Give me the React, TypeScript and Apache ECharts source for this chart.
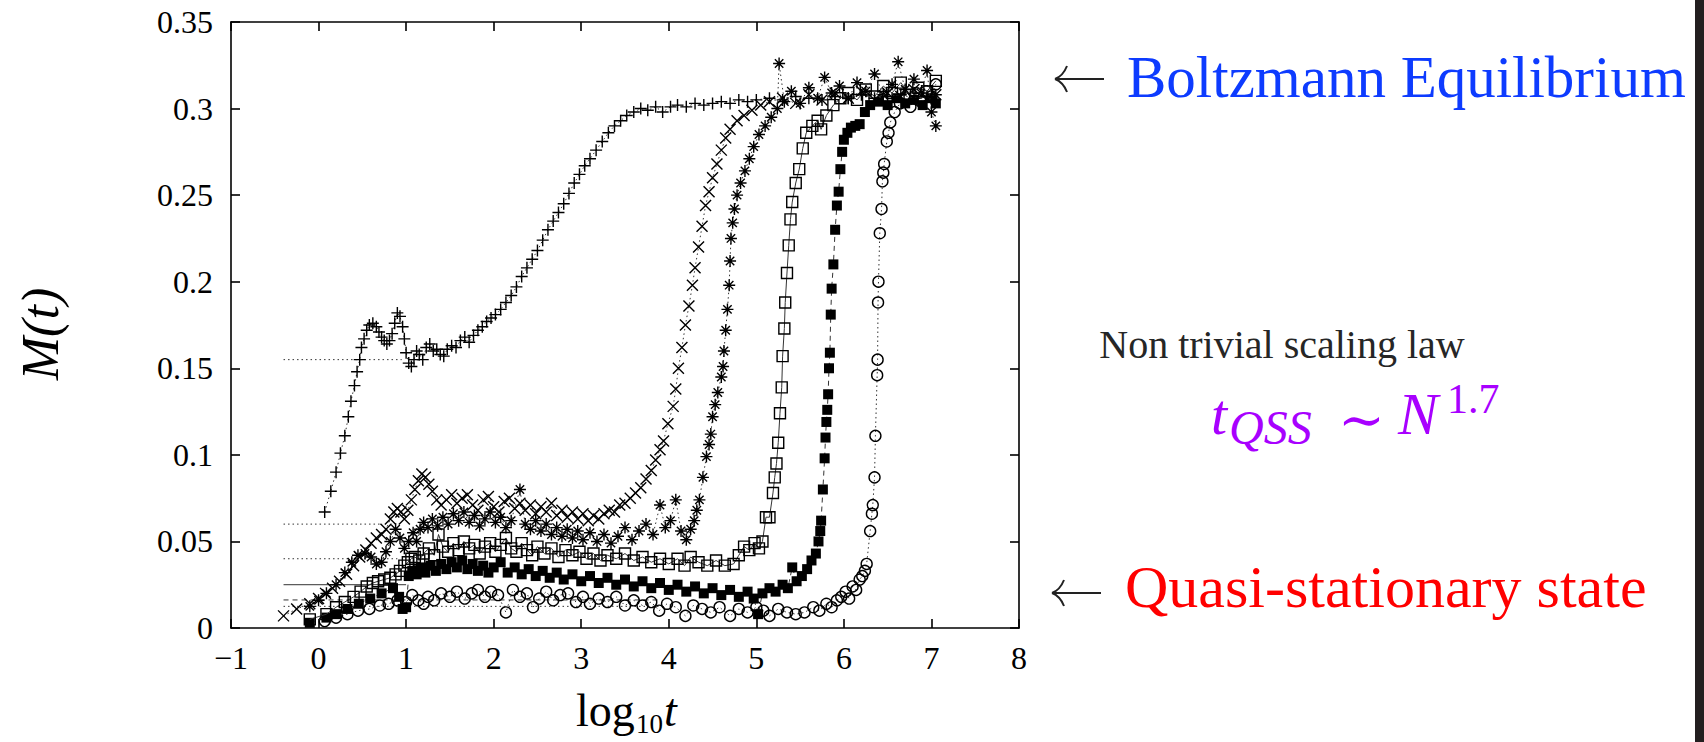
import React, { useEffect, useRef } from "react";
import * as echarts from "echarts";

// ---- axis ranges / ticks ----
const X_MIN = -1;
const X_MAX = 8;
const Y_MIN = 0;
const Y_MAX = 0.35;
const Y_STEP = 0.05;

// ---- data (log10 t, M(t)) ----
const PLUS_DATA: number[][] = [
  [0.07, 0.067], [0.14, 0.079], [0.2, 0.09], [0.25, 0.101], [0.3, 0.111], [0.34, 0.122], [0.37, 0.131],
  [0.41, 0.14], [0.44, 0.148], [0.47, 0.155], [0.49, 0.162], [0.52, 0.167], [0.55, 0.172], [0.58, 0.175],
  [0.62, 0.176], [0.66, 0.174], [0.69, 0.171], [0.72, 0.168], [0.75, 0.166], [0.78, 0.164], [0.81, 0.166],
  [0.84, 0.17], [0.87, 0.176], [0.9, 0.182], [0.93, 0.18], [0.96, 0.174], [0.98, 0.167], [1.0, 0.159],
  [1.03, 0.153], [1.06, 0.151], [1.09, 0.155], [1.12, 0.16], [1.15, 0.158], [1.19, 0.155], [1.23, 0.162],
  [1.27, 0.164], [1.31, 0.16], [1.35, 0.161], [1.39, 0.158], [1.43, 0.157], [1.47, 0.161], [1.52, 0.163],
  [1.57, 0.162], [1.62, 0.166], [1.67, 0.168], [1.72, 0.165], [1.77, 0.169], [1.82, 0.172], [1.87, 0.174],
  [1.92, 0.177], [1.97, 0.179], [2.02, 0.181], [2.08, 0.184], [2.14, 0.188], [2.2, 0.192], [2.26, 0.197],
  [2.32, 0.203], [2.38, 0.208], [2.44, 0.213], [2.5, 0.218], [2.56, 0.224], [2.62, 0.23], [2.68, 0.235],
  [2.74, 0.24], [2.8, 0.245], [2.86, 0.251], [2.92, 0.257], [2.98, 0.262], [3.04, 0.267], [3.1, 0.271],
  [3.17, 0.276], [3.24, 0.281], [3.31, 0.286], [3.38, 0.29], [3.45, 0.293], [3.52, 0.296], [3.6, 0.298],
  [3.68, 0.3], [3.76, 0.299], [3.85, 0.301], [3.93, 0.298], [4.02, 0.301], [4.1, 0.302], [4.2, 0.301],
  [4.3, 0.303], [4.4, 0.302], [4.5, 0.303], [4.6, 0.304], [4.7, 0.303], [4.8, 0.305], [4.9, 0.304],
  [5.0, 0.305], [5.15, 0.306], [5.3, 0.305], [5.45, 0.307], [5.6, 0.306], [5.75, 0.305], [5.9, 0.307],
  [6.05, 0.306], [6.2, 0.308], [6.35, 0.306], [6.5, 0.307], [6.65, 0.308], [6.8, 0.306], [6.95, 0.307],
  [7.05, 0.308],
];

const CROSS_DATA: number[][] = [
  [-0.4, 0.007], [-0.25, 0.011], [-0.1, 0.014], [0.0, 0.017], [0.08, 0.02], [0.16, 0.023], [0.24, 0.027],
  [0.32, 0.031], [0.4, 0.036], [0.47, 0.041], [0.54, 0.045], [0.6, 0.049], [0.66, 0.052], [0.72, 0.054],
  [0.77, 0.057], [0.82, 0.063], [0.86, 0.067], [0.9, 0.069], [0.94, 0.067], [0.98, 0.063], [1.02, 0.068],
  [1.06, 0.074], [1.1, 0.08], [1.14, 0.085], [1.18, 0.089], [1.22, 0.087], [1.26, 0.083], [1.3, 0.079],
  [1.35, 0.074], [1.4, 0.071], [1.46, 0.074], [1.52, 0.077], [1.58, 0.072], [1.64, 0.075], [1.7, 0.077],
  [1.76, 0.071], [1.82, 0.068], [1.88, 0.074], [1.94, 0.076], [2.0, 0.07], [2.06, 0.067], [2.12, 0.073],
  [2.18, 0.075], [2.24, 0.069], [2.3, 0.072], [2.36, 0.068], [2.42, 0.071], [2.48, 0.066], [2.54, 0.07],
  [2.6, 0.067], [2.66, 0.072], [2.72, 0.065], [2.78, 0.068], [2.84, 0.064], [2.9, 0.067], [2.96, 0.063],
  [3.02, 0.066], [3.08, 0.062], [3.14, 0.065], [3.2, 0.063], [3.26, 0.066], [3.32, 0.068], [3.38, 0.067],
  [3.44, 0.071], [3.5, 0.072], [3.56, 0.075], [3.62, 0.078], [3.68, 0.081], [3.74, 0.086], [3.8, 0.091],
  [3.85, 0.097], [3.9, 0.103], [3.94, 0.108], [3.99, 0.118], [4.05, 0.128], [4.08, 0.138], [4.11, 0.15],
  [4.15, 0.162], [4.19, 0.175], [4.23, 0.186], [4.27, 0.198], [4.3, 0.208], [4.34, 0.22], [4.38, 0.232],
  [4.42, 0.244], [4.46, 0.252], [4.5, 0.26], [4.55, 0.268], [4.6, 0.276], [4.65, 0.283], [4.7, 0.288],
  [4.78, 0.293], [4.86, 0.296], [4.95, 0.299], [5.05, 0.302], [5.15, 0.304], [5.3, 0.306], [5.45, 0.303],
  [5.6, 0.308], [5.75, 0.305], [5.9, 0.309], [6.05, 0.306], [6.2, 0.31], [6.35, 0.305], [6.5, 0.309],
  [6.65, 0.307], [6.8, 0.311], [6.95, 0.306], [7.05, 0.308],
];

const STAR_DATA: number[][] = [
  [-0.1, 0.0125], [0.0, 0.016], [0.09, 0.02], [0.2, 0.025], [0.3, 0.032], [0.38, 0.038], [0.45, 0.042],
  [0.53, 0.043], [0.6, 0.041], [0.66, 0.037], [0.72, 0.038], [0.77, 0.044], [0.82, 0.05], [0.88, 0.057],
  [0.93, 0.052], [0.98, 0.046], [1.03, 0.05], [1.08, 0.055], [1.12, 0.05], [1.16, 0.057], [1.2, 0.061],
  [1.25, 0.058], [1.3, 0.063], [1.36, 0.059], [1.42, 0.064], [1.48, 0.06], [1.54, 0.066], [1.6, 0.062],
  [1.66, 0.067], [1.72, 0.061], [1.78, 0.065], [1.84, 0.059], [1.9, 0.063], [1.96, 0.067], [2.02, 0.061],
  [2.08, 0.064], [2.14, 0.058], [2.2, 0.062], [2.3, 0.08], [2.36, 0.06], [2.42, 0.057], [2.48, 0.062],
  [2.54, 0.056], [2.6, 0.06], [2.66, 0.054], [2.72, 0.058], [2.78, 0.053], [2.84, 0.057], [2.9, 0.052],
  [2.96, 0.056], [3.02, 0.051], [3.1, 0.055], [3.18, 0.05], [3.26, 0.054], [3.34, 0.049], [3.42, 0.053],
  [3.5, 0.058], [3.58, 0.051], [3.66, 0.056], [3.74, 0.06], [3.82, 0.054], [3.9, 0.071], [3.96, 0.058],
  [4.02, 0.062], [4.08, 0.074], [4.14, 0.056], [4.2, 0.051], [4.25, 0.057], [4.29, 0.062], [4.32, 0.068],
  [4.35, 0.074], [4.39, 0.087], [4.43, 0.099], [4.46, 0.106], [4.48, 0.112], [4.5, 0.122], [4.53, 0.129],
  [4.56, 0.136], [4.6, 0.145], [4.62, 0.151], [4.63, 0.16], [4.65, 0.172], [4.67, 0.184], [4.69, 0.198],
  [4.7, 0.212], [4.71, 0.225], [4.73, 0.234], [4.75, 0.242], [4.78, 0.25], [4.82, 0.257], [4.87, 0.264],
  [4.92, 0.271], [4.97, 0.278], [5.03, 0.285], [5.1, 0.29], [5.17, 0.295], [5.24, 0.3], [5.26, 0.326],
  [5.32, 0.304], [5.4, 0.31], [5.5, 0.303], [5.6, 0.312], [5.7, 0.306], [5.78, 0.318], [5.86, 0.309],
  [5.95, 0.313], [6.05, 0.306], [6.15, 0.315], [6.25, 0.31], [6.35, 0.32], [6.45, 0.308], [6.55, 0.314],
  [6.62, 0.327], [6.7, 0.311], [6.8, 0.317], [6.88, 0.309], [6.95, 0.322], [7.0, 0.298], [7.05, 0.29],
];

const OPEN_SQUARE_DATA: number[][] = [
  [-0.1, 0.005], [0.09, 0.008], [0.2, 0.012], [0.3, 0.015], [0.4, 0.018], [0.48, 0.021], [0.55, 0.024],
  [0.62, 0.026], [0.68, 0.027], [0.75, 0.028], [0.82, 0.029], [0.88, 0.031], [0.93, 0.033], [0.98, 0.036],
  [1.02, 0.038], [1.06, 0.04], [1.1, 0.041], [1.15, 0.039], [1.2, 0.043], [1.26, 0.046], [1.32, 0.042],
  [1.37, 0.054], [1.42, 0.047], [1.48, 0.044], [1.54, 0.049], [1.6, 0.045], [1.66, 0.05], [1.72, 0.046],
  [1.78, 0.048], [1.84, 0.043], [1.9, 0.047], [1.96, 0.049], [2.02, 0.044], [2.08, 0.048], [2.14, 0.052],
  [2.2, 0.046], [2.26, 0.044], [2.32, 0.049], [2.38, 0.045], [2.44, 0.042], [2.5, 0.047], [2.58, 0.043],
  [2.66, 0.046], [2.74, 0.041], [2.82, 0.045], [2.9, 0.042], [2.98, 0.044], [3.06, 0.04], [3.14, 0.043],
  [3.22, 0.039], [3.3, 0.042], [3.4, 0.04], [3.5, 0.043], [3.6, 0.039], [3.7, 0.041], [3.8, 0.038],
  [3.9, 0.04], [4.0, 0.037], [4.1, 0.04], [4.18, 0.036], [4.25, 0.041], [4.34, 0.038], [4.44, 0.036],
  [4.54, 0.039], [4.64, 0.036], [4.74, 0.037], [4.8, 0.042], [4.86, 0.047], [4.92, 0.045], [4.98, 0.049],
  [5.03, 0.046], [5.07, 0.05], [5.11, 0.064], [5.15, 0.064], [5.19, 0.078], [5.21, 0.087], [5.23, 0.095],
  [5.25, 0.107], [5.27, 0.124], [5.29, 0.139], [5.3, 0.157], [5.32, 0.173], [5.33, 0.188], [5.35, 0.205],
  [5.37, 0.221], [5.39, 0.236], [5.41, 0.246], [5.45, 0.257], [5.49, 0.265], [5.53, 0.277], [5.57, 0.286],
  [5.64, 0.29], [5.7, 0.293], [5.74, 0.288], [5.8, 0.296], [5.88, 0.302], [5.96, 0.306], [6.05, 0.309],
  [6.15, 0.305], [6.25, 0.311], [6.35, 0.307], [6.45, 0.313], [6.55, 0.309], [6.65, 0.315], [6.75, 0.308],
  [6.85, 0.312], [6.95, 0.31], [7.05, 0.316],
];

const FILLED_SQUARE_DATA: number[][] = [
  [-0.1, 0.003], [0.09, 0.006], [0.2, 0.008], [0.33, 0.011], [0.46, 0.014], [0.59, 0.017], [0.72, 0.02],
  [0.85, 0.023], [0.92, 0.018], [0.96, 0.011], [1.0, 0.012], [1.03, 0.03], [1.07, 0.033], [1.12, 0.031],
  [1.17, 0.035], [1.22, 0.032], [1.28, 0.036], [1.34, 0.033], [1.4, 0.037], [1.46, 0.034], [1.52, 0.038],
  [1.58, 0.035], [1.64, 0.039], [1.7, 0.034], [1.76, 0.037], [1.82, 0.033], [1.88, 0.036], [1.94, 0.032],
  [2.0, 0.035], [2.08, 0.038], [2.16, 0.032], [2.24, 0.035], [2.32, 0.031], [2.4, 0.034], [2.48, 0.03],
  [2.56, 0.033], [2.64, 0.029], [2.72, 0.032], [2.8, 0.028], [2.9, 0.031], [3.0, 0.027], [3.1, 0.03],
  [3.2, 0.026], [3.3, 0.029], [3.4, 0.025], [3.5, 0.028], [3.6, 0.024], [3.7, 0.027], [3.8, 0.023],
  [3.9, 0.026], [4.0, 0.022], [4.1, 0.025], [4.2, 0.021], [4.3, 0.024], [4.4, 0.02], [4.5, 0.023],
  [4.6, 0.019], [4.7, 0.022], [4.8, 0.018], [4.9, 0.021], [4.97, 0.017], [5.02, 0.008], [5.07, 0.02],
  [5.15, 0.023], [5.22, 0.021], [5.3, 0.025], [5.36, 0.023], [5.41, 0.035], [5.46, 0.027], [5.52, 0.03],
  [5.58, 0.034], [5.63, 0.039], [5.68, 0.043], [5.71, 0.05], [5.73, 0.056], [5.74, 0.062], [5.76, 0.08],
  [5.78, 0.098], [5.79, 0.11], [5.8, 0.119], [5.81, 0.126], [5.82, 0.135], [5.83, 0.15], [5.84, 0.159],
  [5.85, 0.181], [5.86, 0.196], [5.88, 0.21], [5.9, 0.23], [5.92, 0.244], [5.94, 0.252], [5.96, 0.265],
  [5.98, 0.275], [6.0, 0.282], [6.04, 0.286], [6.08, 0.289], [6.13, 0.29], [6.18, 0.291], [6.24, 0.298],
  [6.3, 0.302], [6.4, 0.304], [6.5, 0.302], [6.6, 0.306], [6.7, 0.303], [6.8, 0.305], [6.9, 0.302],
  [7.0, 0.306], [7.05, 0.303],
];

const CIRCLE_DATA: number[][] = [
  [0.07, 0.004], [0.2, 0.006], [0.33, 0.008], [0.45, 0.01], [0.58, 0.011], [0.7, 0.013], [0.8, 0.014],
  [0.9, 0.016], [1.0, 0.015], [1.07, 0.019], [1.14, 0.016], [1.2, 0.014], [1.25, 0.018], [1.32, 0.016],
  [1.4, 0.02], [1.5, 0.018], [1.58, 0.021], [1.67, 0.017], [1.75, 0.02], [1.82, 0.022], [1.9, 0.018],
  [1.97, 0.021], [2.05, 0.019], [2.14, 0.009], [2.22, 0.022], [2.3, 0.018], [2.38, 0.02], [2.45, 0.012],
  [2.52, 0.017], [2.6, 0.021], [2.68, 0.016], [2.76, 0.019], [2.85, 0.02], [2.94, 0.015], [3.02, 0.018],
  [3.1, 0.014], [3.2, 0.017], [3.3, 0.015], [3.4, 0.018], [3.5, 0.013], [3.6, 0.016], [3.7, 0.013],
  [3.8, 0.015], [3.89, 0.01], [3.98, 0.014], [4.08, 0.012], [4.19, 0.007], [4.28, 0.013], [4.38, 0.011],
  [4.48, 0.009], [4.58, 0.012], [4.7, 0.007], [4.8, 0.011], [4.9, 0.009], [5.0, 0.012], [5.08, 0.01],
  [5.15, 0.007], [5.25, 0.011], [5.35, 0.009], [5.45, 0.008], [5.55, 0.009], [5.65, 0.012], [5.72, 0.01],
  [5.8, 0.014], [5.86, 0.012], [5.92, 0.016], [5.97, 0.018], [6.02, 0.021], [6.06, 0.017], [6.1, 0.024],
  [6.14, 0.022], [6.18, 0.028], [6.21, 0.03], [6.24, 0.033], [6.26, 0.037], [6.3, 0.056], [6.32, 0.066],
  [6.33, 0.071], [6.35, 0.087], [6.36, 0.111], [6.38, 0.146], [6.385, 0.155], [6.39, 0.188], [6.395, 0.2],
  [6.41, 0.228], [6.43, 0.242], [6.44, 0.258], [6.45, 0.263], [6.46, 0.268], [6.49, 0.281], [6.51, 0.286],
  [6.53, 0.292], [6.58, 0.298], [6.64, 0.303], [6.7, 0.306], [6.76, 0.301], [6.82, 0.309], [6.88, 0.304],
  [6.94, 0.31], [7.0, 0.307], [7.05, 0.314],
];

// horizontal reference levels drawn at the left of the plot
const REF_LEVELS = [0.155, 0.06, 0.04, 0.025, 0.0162, 0.0125];
const REF_START = -0.4;
const REF_ENDS = [0.95, 0.72, 0.9, 1.0, 3.9, 3.9];
const REF_STYLES = ["dotted", "dotted", "dotted", "solid", "dashed", "dotted"];

const SERIF = '"Liberation Serif", "Times New Roman", serif';

const DOT: number[] = [1.5, 3];
const DASH: number[] = [5, 4];

function lineType(t: string): any {
  if (t === "dotted") return DOT;
  if (t === "dashed") return DASH;
  return "solid";
}

const PLUS_PATH = "path://M0,5L10,5M5,0L5,10";
const CROSS_PATH = "path://M0,0L10,10M10,0L0,10";
const STAR_PATH = "path://M0,5L10,5M5,0L5,10M1.5,1.5L8.5,8.5M8.5,1.5L1.5,8.5";

function markerSeries(
  data: number[][],
  symbol: string,
  size: number,
  filled: boolean,
  lt: string,
  z: number
) {
  return {
    type: "line",
    data,
    symbol,
    symbolSize: size,
    showSymbol: true,
    showAllSymbol: true,
    z,
    lineStyle: { color: "#333", width: 1, type: lineType(lt) },
    itemStyle: {
      color: filled ? "#000" : "rgba(0,0,0,0)",
      borderColor: "#000",
      borderWidth: filled ? 0 : 1.4,
    },
    emphasis: { disabled: true },
    silent: true,
  };
}

function leftArrow(tipX: number, y: number, len: number) {
  const stroke = { stroke: "#222", lineWidth: 2, fill: "none" };
  return [
    { type: "line", shape: { x1: tipX + 1, y1: y, x2: tipX + len, y2: y }, style: stroke },
    { type: "bezierCurve", shape: { x1: tipX, y1: y, x2: tipX + 12, y2: y - 13, cpx1: tipX + 8, cpy1: y - 3 }, style: stroke },
    { type: "bezierCurve", shape: { x1: tipX, y1: y, x2: tipX + 12, y2: y + 13, cpx1: tipX + 8, cpy1: y + 3 }, style: stroke },
  ];
}

export default function App() {
  const ref = useRef<HTMLDivElement>(null);

  useEffect(() => {
    document.body.style.margin = "0";
    if (!ref.current) return;
    const chart = echarts.init(ref.current, undefined, { renderer: "svg" });

    const refSeries = REF_LEVELS.map((lvl, i) => ({
      type: "line",
      data: [
        [REF_START, lvl],
        [REF_ENDS[i], lvl],
      ],
      symbol: "none",
      z: 1,
      lineStyle: { color: "#333", width: 1, type: lineType(REF_STYLES[i]) },
      silent: true,
    }));

    const axisLine = { show: true, onZero: false, lineStyle: { color: "#000", width: 1.6 } };
    const axisTick = { show: true, inside: true, length: 9, lineStyle: { color: "#000", width: 1.6 } };

    const option: any = {
      animation: false,
      backgroundColor: "#fff",
      grid: { left: 231, right: 685, top: 22, bottom: 114, containLabel: false },
      xAxis: [
        {
          type: "value",
          min: X_MIN,
          max: X_MAX,
          interval: 1,
          position: "bottom",
          axisLine,
          axisTick,
          splitLine: { show: false },
          axisLabel: {
            color: "#000",
            fontFamily: SERIF,
            fontSize: 32,
            margin: 14,
            formatter: (v: number) => (v < 0 ? "\u2212" + Math.abs(v) : String(v)),
          },
        },
        {
          type: "value",
          min: X_MIN,
          max: X_MAX,
          interval: 1,
          position: "top",
          axisLine,
          axisTick,
          splitLine: { show: false },
          axisLabel: { show: false },
        },
      ],
      yAxis: [
        {
          type: "value",
          min: Y_MIN,
          max: Y_MAX,
          interval: Y_STEP,
          position: "left",
          axisLine,
          axisTick,
          splitLine: { show: false },
          axisLabel: {
            color: "#000",
            fontFamily: SERIF,
            fontSize: 32,
            margin: 18,
            formatter: (v: number) => String(Number(v.toFixed(2))),
          },
        },
        {
          type: "value",
          min: Y_MIN,
          max: Y_MAX,
          interval: Y_STEP,
          position: "right",
          axisLine,
          axisTick,
          splitLine: { show: false },
          axisLabel: { show: false },
        },
      ],
      series: [
        ...refSeries,
        markerSeries(CIRCLE_DATA, "circle", 11, false, "dotted", 2),
        markerSeries(FILLED_SQUARE_DATA, "rect", 10, true, "dashed", 3),
        markerSeries(OPEN_SQUARE_DATA, "rect", 11, false, "solid", 4),
        markerSeries(STAR_DATA, STAR_PATH, 12, false, "dotted", 5),
        markerSeries(CROSS_DATA, CROSS_PATH, 11, false, "dotted", 6),
        markerSeries(PLUS_DATA, PLUS_PATH, 12, false, "dotted", 7),
      ],
      graphic: [
        // y axis title M(t)
        {
          type: "text",
          x: 40,
          y: 334,
          rotation: Math.PI / 2,
          style: {
            text: "M(t)",
            fill: "#000",
            font: 'italic 52px "Liberation Serif"',
            align: "center",
            verticalAlign: "middle",
          },
        },
        // x axis title log10 t
        {
          type: "text",
          x: 576,
          y: 710,
          style: { text: "log", fill: "#000", font: '46px "Liberation Serif"', align: "left", verticalAlign: "middle" },
        },
        {
          type: "text",
          x: 636,
          y: 724,
          style: { text: "10", fill: "#000", font: '27px "Liberation Serif"', align: "left", verticalAlign: "middle" },
        },
        {
          type: "text",
          x: 664,
          y: 710,
          style: { text: "t", fill: "#000", font: 'italic 46px "Liberation Serif"', align: "left", verticalAlign: "middle" },
        },
        // Boltzmann equilibrium annotation
        ...leftArrow(1055, 79, 49),
        {
          type: "text",
          x: 1127,
          y: 77,
          style: { text: "Boltzmann Equilibrium", fill: "#0d3bff", font: '59px "Liberation Serif"', align: "left", verticalAlign: "middle" },
        },
        // Non trivial scaling law
        {
          type: "text",
          x: 1282,
          y: 344,
          style: { text: "Non trivial scaling law", fill: "#262626", font: '40px "Liberation Serif"', align: "center", verticalAlign: "middle" },
        },
        // t_QSS ~ N^1.7
        {
          type: "text",
          x: 1211,
          y: 414,
          style: { text: "t", fill: "#a800ff", font: 'italic 58px "Liberation Serif"', align: "left", verticalAlign: "middle" },
        },
        {
          type: "text",
          x: 1229,
          y: 427,
          style: { text: "QSS", fill: "#a800ff", font: 'italic 48px "Liberation Serif"', align: "left", verticalAlign: "middle" },
        },
        {
          type: "text",
          x: 1338,
          y: 419,
          style: { text: "\u223C", fill: "#a800ff", font: '56px "DejaVu Serif"', align: "left", verticalAlign: "middle" },
        },
        {
          type: "text",
          x: 1398,
          y: 414,
          style: { text: "N", fill: "#a800ff", font: 'italic 60px "Liberation Serif"', align: "left", verticalAlign: "middle" },
        },
        {
          type: "text",
          x: 1447,
          y: 399,
          style: { text: "1.7", fill: "#a800ff", font: '42px "Liberation Serif"', align: "left", verticalAlign: "middle" },
        },
        // Quasi-stationary state annotation
        ...leftArrow(1052, 593, 49),
        {
          type: "text",
          x: 1125,
          y: 587,
          style: { text: "Quasi-stationary state", fill: "#ff0000", font: '60px "Liberation Serif"', align: "left", verticalAlign: "middle" },
        },
        // dark strip at right edge
        {
          type: "rect",
          shape: { x: 1695, y: 0, width: 9, height: 742 },
          style: { fill: "#231f20" },
        },
      ],
    };

    chart.setOption(option);
    return () => chart.dispose();
  }, []);

  return <div ref={ref} style={{ width: 1704, height: 742 }} />;
}
